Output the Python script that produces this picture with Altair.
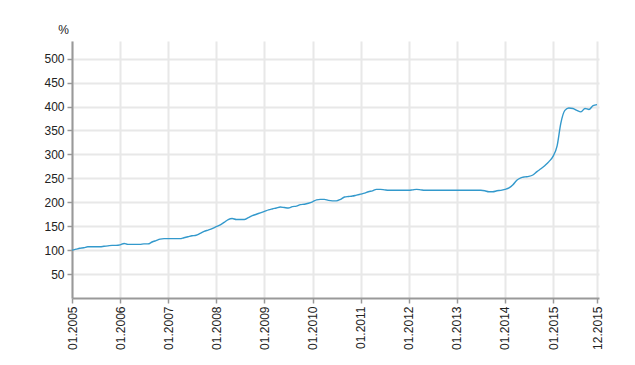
import altair as alt
import pandas as pd

years = list(range(2005, 2016))
values_by_year = {
    2005: [100, 102, 104, 105, 107, 107, 107, 107, 108, 109, 110, 110],
    2006: [111, 114, 112, 112, 112, 112, 113, 113, 117, 120, 123, 124],
    2007: [124, 124, 124, 124, 126, 128, 130, 131, 135, 139, 142, 145],
    2008: [149, 153, 158, 164, 166, 164, 164, 164, 168, 172, 175, 178],
    2009: [181, 184, 186, 188, 190, 189, 188, 191, 192, 195, 196, 198],
    2010: [201, 205, 206, 206, 204, 203, 203, 206, 211, 212, 213, 215],
    2011: [217, 219, 222, 224, 227, 227, 226, 225, 225, 225, 225, 225],
    2012: [225, 226, 227, 226, 225, 225, 225, 225, 225, 225, 225, 225],
    2013: [225, 225, 225, 225, 225, 225, 225, 224, 222, 222, 224, 225],
    2014: [227, 230, 236, 246, 251, 253, 254, 257, 264, 270, 277, 285],
    2015: [296, 318, 365, 392, 397, 396, 392, 389, 396, 394, 402, 404],
}
y_ticks = [50, 100, 150, 200, 250, 300, 350, 400, 450, 500]
x_tick_dates = [f"{y}-01-01" for y in years] + ["2015-12-01"]

rows = []
for y in years:
    for m, v in enumerate(values_by_year[y], start=1):
        rows.append({"date": f"{y}-{m:02d}-01", "value": v})
df = pd.DataFrame(rows)

x_values = [
    alt.DateTime(year=int(d[:4]), month=int(d[5:7]), date=1) for d in x_tick_dates
]

axis_style = dict(
    grid=True,
    gridColor="#e8e8e8",
    gridWidth=2,
    domainColor="#999999",
    domainWidth=2,
    tickColor="#999999",
    tickWidth=1.5,
    tickSize=5,
    labelFont="Liberation Sans",
    labelFontSize=12,
    labelColor="#222222",
    labelPadding=3,
)

chart = (
    alt.Chart(df)
    .mark_line(color="#3399cc", strokeWidth=1.4, interpolate="monotone")
    .encode(
        x=alt.X(
            "date:T",
            scale=alt.Scale(
                domain=[
                    alt.DateTime(year=2005, month=1, date=1),
                    alt.DateTime(year=2015, month=12, date=16),
                ],
                nice=False,
            ),
            axis=alt.Axis(
                values=x_values,
                format="%m.%Y",
                labelAngle=-90,
                title=None,
                **axis_style,
            ),
        ),
        y=alt.Y(
            "value:Q",
            scale=alt.Scale(domain=[0, 537], nice=False, zero=True),
            axis=alt.Axis(
                values=y_ticks,
                title="%",
                titleAngle=0,
                titleX=-9,
                titleY=-5,
                titleAlign="center",
                titleBaseline="bottom",
                titleFont="Liberation Sans",
                titleFontSize=12,
                titleFontWeight="normal",
                titleColor="#222222",
                **axis_style,
            ),
        ),
    )
    .properties(
        width=527,
        height=257,
        autosize=alt.AutoSizeParams(type="none"),
        padding={"left": 64, "top": 33, "right": 28, "bottom": 60},
    )
    .configure_view(stroke=None)
)

chart.save("out.html", embed_options={"renderer": "svg", "actions": False})
